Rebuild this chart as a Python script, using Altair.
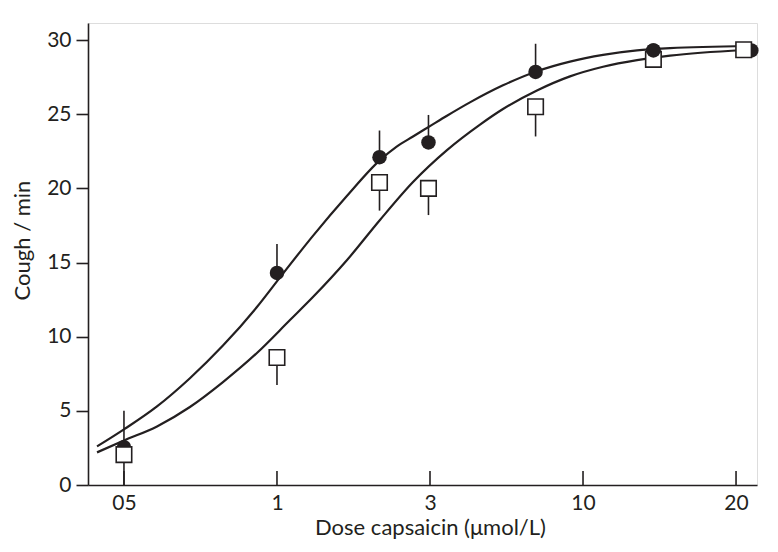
import altair as alt
import pandas as pd

INK = "#231f20"
FONT = "Lato"

# x positions are on an equally spaced dose axis (index of tick labels)
dose_labels = ["05", "1", "3", "10", "20"]
dose_ticks = [0, 1, 2, 3, 4]

# filled circles (mean, upper error end)
pos_filled = [0.0, 1.0, 1.67, 1.99, 2.69, 3.46, 4.10]
cough_filled = [2.55, 14.3, 22.1, 23.1, 27.85, 29.3, 29.3]
err_filled = [5.0, 16.25, 23.9, 24.95, 29.75, 29.3, 29.3]
front_filled = [False, False, False, False, False, True, False]

# open squares (mean, lower error end)
pos_open = [0.0, 1.0, 1.67, 1.99, 2.69, 3.46, 4.05]
cough_open = [2.05, 8.6, 20.4, 20.0, 25.5, 28.7, 29.35]
err_open = [0.0, 6.75, 18.5, 18.2, 23.5, 28.7, 29.35]

# fitted curves
curve_filled_x = [-0.176, 0.0, 0.216, 0.431, 0.647, 0.869, 1.02, 1.235, 1.458, 1.673, 1.78,
                  1.889, 2.0, 2.111, 2.261, 2.477, 2.699, 2.915, 3.131, 3.353, 3.569, 4.08]
curve_filled_y = [2.6, 3.75, 5.3, 7.2, 9.4, 12.0, 14.0, 16.8, 19.5, 21.9, 22.8,
                  23.5, 24.2, 24.9, 25.8, 26.95, 27.9, 28.55, 29.0, 29.3, 29.45, 29.6]
curve_open_x = [-0.176, 0.0, 0.216, 0.431, 0.647, 0.869, 1.085, 1.235, 1.458, 1.673,
                1.889, 2.111, 2.327, 2.477, 2.699, 2.915, 3.131, 3.353, 3.569, 4.05]
curve_open_y = [2.2, 3.0, 3.95, 5.26, 6.94, 8.9, 11.12, 12.67, 15.17, 17.87,
                20.43, 22.58, 24.3, 25.35, 26.6, 27.55, 28.2, 28.65, 28.95, 29.33]

W, H = 669, 462
xscale = alt.Scale(domain=[-0.235, 4.137], nice=False, zero=False)
yscale = alt.Scale(domain=[0, 31.15], nice=False, zero=False)

df_f = pd.DataFrame({"x": pos_filled, "y": cough_filled, "e": err_filled, "front": front_filled})
df_o = pd.DataFrame({"x": pos_open, "y": cough_open, "e": err_open})
df_cf = pd.DataFrame({"x": curve_filled_x, "y": curve_filled_y})
df_co = pd.DataFrame({"x": curve_open_x, "y": curve_open_y})
df_t = pd.DataFrame({"x": dose_ticks, "lab": dose_labels})

label_expr = "[" + ",".join('"%s"' % s for s in dose_labels) + "][datum.value]"

xaxis = alt.Axis(values=dose_ticks, labelExpr=label_expr, ticks=False, tickSize=0, grid=False,
                 domainColor=INK, domainWidth=1.6, labelFont=FONT, labelFontSize=21,
                 labelColor=INK, labelPadding=7, title="Dose capsaicin (μmol/L)",
                 titleFont=FONT, titleFontSize=22, titleFontWeight="normal", titleColor=INK,
                 titleX=342, titleY=42, titleBaseline="middle", titleAnchor="middle")
yaxis = alt.Axis(values=[0, 5, 10, 15, 20, 25, 30], grid=False, tickSize=12, tickColor=INK,
                 tickWidth=1.6, domainColor=INK, domainWidth=1.6, labelFont=FONT, labelFontSize=21,
                 labelColor=INK, labelPadding=5, title="Cough / min", titleFont=FONT,
                 titleFontSize=22, titleFontWeight="normal", titleColor=INK,
                 titleX=-66, titleY=217, titleBaseline="middle", titleAngle=270, titleAlign="center")

base_x = alt.X("x:Q", scale=xscale, axis=xaxis)
base_y = alt.Y("y:Q", scale=yscale, axis=yaxis)

curve_f = alt.Chart(df_cf).mark_line(color=INK, strokeWidth=2.2, interpolate="monotone").encode(
    x=base_x, y=base_y)
curve_o = alt.Chart(df_co).mark_line(color=INK, strokeWidth=2.2, interpolate="monotone").encode(
    x="x:Q", y="y:Q")

ticks = alt.Chart(df_t).mark_rule(color=INK, strokeWidth=1.6).encode(
    x="x:Q", y=alt.value(H), y2=alt.value(H - 14))

err_f = alt.Chart(df_f).mark_rule(color=INK, strokeWidth=1.6).encode(x="x:Q", y="y:Q", y2="e:Q")
err_o = alt.Chart(df_o).mark_rule(color=INK, strokeWidth=1.6).encode(x="x:Q", y="y:Q", y2="e:Q")

circles = alt.Chart(df_f).mark_point(shape="circle", filled=True, color=INK, size=210, opacity=1).encode(
    x="x:Q", y="y:Q")
squares = alt.Chart(df_o).mark_point(shape="square", filled=True, fill="white", stroke=INK,
                                     strokeWidth=1.6, size=240, opacity=1).encode(x="x:Q", y="y:Q")
circles_front = alt.Chart(df_f).transform_filter("datum.front").mark_point(
    shape="circle", filled=True, color=INK, size=210, opacity=1).encode(x="x:Q", y="y:Q")

chart = alt.layer(curve_f, curve_o, ticks, err_f, err_o, circles, squares, circles_front).properties(
    width=W, height=H,
    autosize=alt.AutoSizeParams(type="none"),
    padding={"left": 80, "top": 15, "right": 13, "bottom": 64},
).configure_view(stroke=None).configure(background="white")

chart.save("out.html", embed_options={"renderer": "svg", "actions": False})
